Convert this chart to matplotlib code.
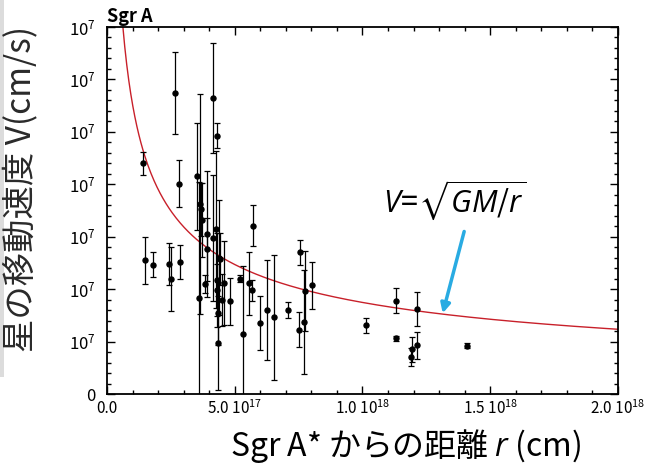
import numpy as np
import matplotlib
matplotlib.use("Agg")
import matplotlib.pyplot as plt
from matplotlib.ticker import MultipleLocator
from matplotlib.patches import Rectangle

plt.rcParams['font.family'] = ['Noto Sans CJK JP', 'DejaVu Sans']
plt.rcParams['mathtext.fontset'] = 'custom'
plt.rcParams['mathtext.rm'] = 'Noto Sans CJK JP'
plt.rcParams['mathtext.it'] = 'Open Sans:italic'
plt.rcParams['mathtext.bf'] = 'Noto Sans CJK JP:bold'
plt.rcParams['mathtext.fallback'] = 'stixsans'

# star distance from Sgr A* (units of 1e17 cm)
r_e17 = [1.40, 1.49, 1.81, 2.43, 2.49, 2.66, 2.83, 2.86,
         3.54, 3.61, 3.64, 3.67, 3.71, 3.91, 3.93, 3.84,
         4.14, 4.29, 4.16, 4.27, 4.40, 4.42, 4.29, 4.30, 4.36, 4.33, 4.49, 4.59,
         4.81, 5.22, 5.34, 5.55, 5.66, 5.70, 5.99, 6.27, 6.55,
         7.10, 7.53, 7.55, 7.75, 7.72, 8.04,
         10.12, 11.30, 11.32, 11.90, 11.94, 12.13, 12.15, 14.10]
# velocity (units of 1e7 cm/s)
v_e7 = [4.40, 2.55, 2.47, 2.48, 2.19, 5.74, 4.01, 2.52,
        4.15, 1.84, 3.63, 3.52, 3.32, 3.05, 2.76, 2.10,
        5.64, 4.93, 2.97, 3.14, 2.60, 2.57, 2.18, 1.98, 1.54, 0.97, 1.79, 2.11,
        1.77, 2.20, 1.14, 2.11, 1.98, 3.21, 1.35, 1.60, 1.46,
        1.60, 1.23, 2.70, 1.97, 1.38, 2.07,
        1.31, 1.78, 1.06, 0.70, 0.85, 1.62, 0.93, 0.92]
err_e7 = [0.22, 0.45, 0.24, 0.40, 0.61, 0.78, 0.45, 0.33,
          1.02, 2.20, 2.10, 0.50, 0.70, 1.20, 0.60, 0.17,
          1.05, 0.24, 1.20, 1.50, 1.10, 0.50, 0.90, 0.50, 0.60, 0.90, 0.50, 0.80,
          0.45, 0.07, 1.30, 0.60, 0.20, 0.39, 0.52, 0.95, 1.19,
          0.15, 0.33, 0.23, 0.76, 0.99, 0.45,
          0.14, 0.24, 0.04, 0.17, 0.23, 0.33, 0.26, 0.045]

GM = 3.05e32  # cgs, for the Keplerian curve

x_ticks = [0, 5e17, 1e18, 1.5e18, 2e18]
x_labels = ["0.0", r"5.0 $\mathregular{10^{17}}$", r"1.0 $\mathregular{10^{18}}$",
            r"1.5 $\mathregular{10^{18}}$", r"2.0 $\mathregular{10^{18}}$"]
y_ticks = [0, 1e7, 2e7, 3e7, 4e7, 5e7, 6e7, 7e7]
y_labels = ["0"] + [r"$\mathregular{10^{7}}$"] * 7

r = np.array(r_e17) * 1e17
v = np.array(v_e7) * 1e7
err = np.array(err_e7) * 1e7

fig = plt.figure(figsize=(6.67, 4.68), dpi=100)
ax = fig.add_axes([0.1604, 0.1581, 0.7661, 0.7842])

# model curve V = sqrt(GM/r)
rr = np.linspace(0.3e17, 2e18, 500)
ax.plot(rr, np.sqrt(GM / rr), color='#c8202a', lw=1.0)

ax.errorbar(r, v, yerr=err, fmt='o', color='black', ms=3.6,
            capsize=2.2, elinewidth=0.9, capthick=0.9)

ax.set_xlim(0, 2e18)
ax.set_ylim(0, 7e7)
ax.set_xticks(x_ticks, x_labels, fontsize=11)
ax.set_yticks(y_ticks, y_labels, fontsize=12)
ax.xaxis.set_minor_locator(MultipleLocator(1e17))
ax.yaxis.set_minor_locator(MultipleLocator(2e6))
ax.tick_params(which='both', direction='in', top=True, right=True, width=1.0)
ax.tick_params(which='major', length=6)
ax.tick_params(which='minor', length=3)
ax.tick_params(axis='x', pad=4)
ax.tick_params(axis='y', pad=8)
for s in ax.spines.values():
    s.set_linewidth(1.3)

ax.text(0, 1.003, "Sgr A", transform=ax.transAxes, ha='left', va='bottom',
        fontsize=13, fontweight='bold')

ax.text(0.54, 0.496, r"$V\!=\!\sqrt{GM/r}$", transform=ax.transAxes,
        ha='left', va='baseline', fontsize=22)
ax.annotate("", xy=(1.314e18, 1.54e7), xytext=(1.398e18, 3.10e7),
            arrowprops=dict(arrowstyle='-|>', color='#29abe2', lw=2.5,
                            mutation_scale=14, shrinkA=0, shrinkB=0))

fig.text(21 / 667, 1 - 189 / 468, "星の移動速度 V(cm/s)", rotation=90,
         ha='center', va='center', fontsize=24, color='#2a2a2a')
fig.text(406 / 667, 1 - 446 / 468, r"Sgr A* からの距離 $r$ (cm)",
         ha='center', va='center', fontsize=23)

fig.add_artist(Rectangle((0, 1 - 377 / 468), 4 / 667, 377 / 468,
                         transform=fig.transFigure, color='#dcdcdc', lw=0))

fig.savefig("out.png", dpi=100)
